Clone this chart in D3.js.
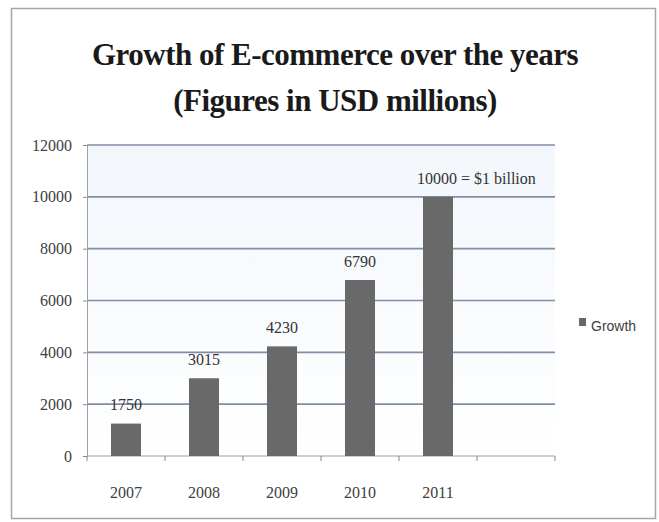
<!DOCTYPE html>
<html>
<head>
<meta charset="utf-8">
<script src="https://cdn.jsdelivr.net/npm/d3@7"></script>
<style>
  body { margin: 0; background: #ffffff; }
  svg { display: block; }
</style>
</head>
<body>
<script>
//chart data
var years = ["2007", "2008", "2009", "2010", "2011"];
var growth = [1250, 3000, 4230, 6790, 10000];
var barLabels = ["1750", "3015", "4230", "6790", "10000 = $1 billion"];
var yTicks = [0, 2000, 4000, 6000, 8000, 10000, 12000];
var seriesName = "Growth";
var titleLines = ["Growth of E-commerce over the years", "(Figures in USD millions)"];

var width = 659,
    height = 522;

var svg = d3.select("body")
    .append("svg")
    .attr("width", width)
    .attr("height", height);

//outer chart frame
svg.append("rect")
    .attr("x", 11.5)
    .attr("y", 8.5)
    .attr("width", 644)
    .attr("height", 510)
    .attr("fill", "#ffffff")
    .attr("stroke", "#a6a6a6")
    .attr("stroke-width", 1.5);

//title
svg.selectAll(".title")
    .data(titleLines)
    .enter()
    .append("text")
    .attr("class", "title")
    .attr("x", 335)
    .attr("y", function(d, i){ return 65 + i * 46; })
    .attr("text-anchor", "middle")
    .attr("font-family", "Liberation Serif, serif")
    .attr("font-weight", "bold")
    .attr("font-size", 31)
    .attr("letter-spacing", -0.5)
    .attr("fill", "#1a1a1a")
    .text(function(d){ return d; });

//scales: one empty slot after the last year
var x = d3.scaleBand()
    .domain(years.concat([""]))
    .range([87, 555])
    .paddingInner(0.615)
    .paddingOuter(0.3075);

var y = d3.scaleLinear()
    .domain([0, 12000])
    .range([456, 145]);

//light plot background
var defs = svg.append("defs");
var grad = defs.append("linearGradient")
    .attr("id", "plotbg")
    .attr("x1", 0).attr("y1", 0).attr("x2", 0).attr("y2", 1);
grad.append("stop").attr("offset", "0%").attr("stop-color", "#f3f7fc");
grad.append("stop").attr("offset", "100%").attr("stop-color", "#ffffff");

svg.append("rect")
    .attr("x", 87)
    .attr("y", y(12000))
    .attr("width", 468)
    .attr("height", y(0) - y(12000))
    .attr("fill", "url(#plotbg)");

//gridlines
svg.selectAll(".grid")
    .data(yTicks.slice(1))
    .enter()
    .append("line")
    .attr("class", "grid")
    .attr("x1", 87)
    .attr("x2", 555)
    .attr("y1", function(d){ return y(d); })
    .attr("y2", function(d){ return y(d); })
    .attr("stroke", "#7f8ea6")
    .attr("stroke-width", 1.6);

//y axis
var yAxis = svg.append("g")
    .attr("transform", "translate(87,0)")
    .call(d3.axisLeft(y).tickValues(yTicks).tickSize(4).tickPadding(11).tickFormat(d3.format("d")))
    .attr("font-family", "Liberation Serif, serif")
    .attr("font-size", 16);

yAxis.select(".domain").attr("stroke", "#a0a0a0");
yAxis.selectAll(".tick line").attr("stroke", "#8a8a8a");
yAxis.selectAll(".tick text")
    .style("font-family", "Liberation Serif, serif")
    .attr("fill", "#404040");

//x axis line and tick marks at category boundaries
svg.append("line")
    .attr("x1", 87)
    .attr("x2", 555)
    .attr("y1", y(0))
    .attr("y2", y(0))
    .attr("stroke", "#a0a0a0")
    .attr("stroke-width", 1);

svg.selectAll(".xtick")
    .data(d3.range(x.domain().length + 1))
    .enter()
    .append("line")
    .attr("class", "xtick")
    .attr("x1", function(i){ return 87 + i * x.step(); })
    .attr("x2", function(i){ return 87 + i * x.step(); })
    .attr("y1", y(0))
    .attr("y2", y(0) + 5)
    .attr("stroke", "#8a8a8a");

svg.selectAll(".xlabel")
    .data(years)
    .enter()
    .append("text")
    .attr("class", "xlabel")
    .attr("x", function(d){ return x(d) + x.bandwidth() / 2; })
    .attr("y", 498)
    .attr("text-anchor", "middle")
    .attr("font-family", "Liberation Serif, serif")
    .attr("font-size", 16)
    .attr("fill", "#404040")
    .text(function(d){ return d; });

//bars
svg.selectAll(".bar")
    .data(growth)
    .enter()
    .append("rect")
    .attr("class", "bar")
    .attr("x", function(d, i){ return x(years[i]); })
    .attr("y", function(d){ return y(d); })
    .attr("width", x.bandwidth())
    .attr("height", function(d){ return y(0) - y(d); })
    .attr("fill", "#696969");

//data labels (last one is written off to the right)
svg.selectAll(".barlabel")
    .data(barLabels)
    .enter()
    .append("text")
    .attr("class", "barlabel")
    .attr("x", function(d, i){
        return i == years.length - 1 ? x(years[i]) - 6 : x(years[i]) + x.bandwidth() / 2;
    })
    .attr("y", function(d, i){
        return i == 0 ? y(2000) + 6 : y(growth[i]) - 13;
    })
    .attr("text-anchor", function(d, i){ return i == years.length - 1 ? "start" : "middle"; })
    .attr("font-family", "Liberation Serif, serif")
    .attr("font-size", 16)
    .attr("fill", "#333333")
    .text(function(d){ return d; });

//legend
svg.append("rect")
    .attr("x", 579)
    .attr("y", 318)
    .attr("width", 7)
    .attr("height", 8)
    .attr("fill", "#696969");

svg.append("text")
    .attr("x", 591)
    .attr("y", 331)
    .attr("font-family", "Liberation Sans Narrow, Liberation Sans, sans-serif")
    .attr("font-size", 14)
    .attr("fill", "#404040")
    .text(seriesName);
</script>
</body>
</html>
